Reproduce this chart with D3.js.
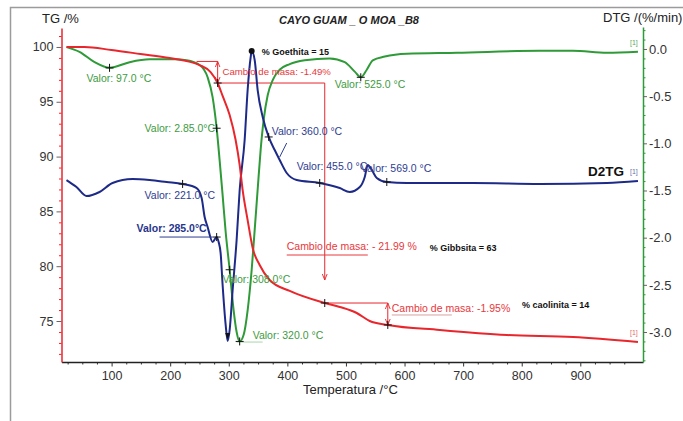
<!DOCTYPE html>
<html>
<head>
<meta charset="utf-8">
<script src="https://cdn.jsdelivr.net/npm/d3@7"></script>
<style>
  body { margin: 0; background: #fff; }
  svg { display: block; font-family: "Liberation Sans", Arial, sans-serif; }
</style>
</head>
<body>
<svg id="chart" width="683" height="421"></svg>
<script>
const tgData = [
  [23.0, 100.0], [53.8, 100.0], [99.9, 99.72], [149.4, 99.36], [199.0, 98.99],
  [250.2, 98.35], [269.0, 97.71], [281.0, 96.71], [289.5, 95.53], [301.5, 93.79],
  [311.7, 91.51], [318.6, 89.23], [323.7, 86.95], [332.2, 84.21], [340.8, 81.66],
  [352.7, 80.11], [369.8, 78.74], [404.0, 77.74], [463.8, 76.64], [489.4, 76.28],
  [518.4, 75.73], [540.6, 75.0], [571.4, 74.64], [660.2, 74.18], [774.7, 73.72],
  [887.4, 73.54], [998.4, 73.08]
];

const dtgData = [
  [23.0, 0.02], [45.2, -0.03], [70.9, -0.14], [96.5, -0.20], [130.7, -0.14],
  [164.8, -0.11], [207.5, -0.11], [228.0, -0.12], [250.2, -0.17], [263.9, -0.30],
  [272.4, -0.51], [279.3, -0.84], [284.4, -1.18], [289.5, -1.55], [294.7, -1.94],
  [301.5, -2.34], [308.3, -2.77], [313.4, -3.00], [318.6, -3.10], [325.4, -3.03],
  [332.2, -2.77], [339.1, -2.34], [344.2, -1.92], [349.3, -1.49], [354.4, -1.07],
  [359.6, -0.75], [366.4, -0.49], [375.0, -0.33], [386.9, -0.22], [404.0, -0.16],
  [429.6, -0.12], [472.3, -0.10], [497.9, -0.14], [515.0, -0.24], [525.3, -0.30],
  [535.5, -0.22], [545.8, -0.12], [566.3, -0.08], [603.8, -0.05], [689.3, -0.04],
  [831.0, -0.02], [887.4, -0.02], [945.5, -0.04], [998.4, -0.03]
];

// D2TG no tiene eje propio: se lee contra la escala TG
const d2tgData = [
  [23.0, 87.86], [40.1, 87.22], [57.2, 86.40], [79.4, 86.77], [101.6, 87.59],
  [135.8, 87.95], [164.8, 87.86], [193.9, 87.68], [221.2, 87.50], [245.1, 87.13],
  [253.7, 86.22], [258.8, 84.49], [263.9, 83.58], [272.4, 82.21], [279.3, 82.66],
  [282.7, 82.21], [286.1, 81.20], [289.5, 78.28], [294.7, 74.64], [298.1, 73.18],
  [301.5, 74.18], [306.6, 77.83], [313.4, 82.39], [318.6, 86.95], [327.1, 91.51],
  [332.2, 96.07], [337.4, 99.08], [339.1, 99.63], [344.2, 98.81], [349.3, 96.07],
  [357.9, 93.61], [368.1, 91.79], [378.4, 90.60], [386.9, 89.69], [398.9, 88.50],
  [415.9, 87.86], [455.2, 87.59], [489.4, 87.13], [506.5, 86.77], [523.6, 87.22],
  [532.1, 88.14], [537.2, 89.23], [544.1, 88.78], [552.6, 88.05], [569.7, 87.68],
  [603.8, 87.59], [716.6, 87.59], [831.0, 87.50], [945.5, 87.59], [998.4, 87.77]
];

const xTicks = [100, 200, 300, 400, 500, 600, 700, 800, 900];
const tgTicks = [75, 80, 85, 90, 95, 100];
const dtgTicks = [0, -0.5, -1, -1.5, -2, -2.5, -3];

// puntos marcados (+)
const tgMarks = [[281.0, 96.71], [463.8, 76.64], [571.4, 74.64]];
const dtgMarks = [[96.5, -0.20], [279.3, -0.84], [301.5, -2.34], [318.6, -3.10], [525.3, -0.30]];
const d2tgMarks = [[221.2, 87.50], [279.3, 82.66], [368.1, 91.79], [455.2, 87.59], [569.7, 87.68]];
const goethitaPeak = [339.1, 99.63];
const d2tgMin = [298.1, 73.18];

// textos, anclados en [°C, TG %]
const notes = [
  { text: "Valor: 97.0 °C", t: 57.2, v: 96.80, kind: "dtg" },
  { text: "Valor: 2.85.0°C", t: 156.3, v: 92.24, kind: "dtg" },
  { text: "Cambio de masa: -1.49%", t: 289.5, v: 97.44, kind: "tgSmall" },
  { text: "% Goethita = 15", t: 356.1, v: 99.27, kind: "pct" },
  { text: "Valor: 525.0 °C", t: 480.8, v: 96.26, kind: "dtg" },
  { text: "Valor: 360.0 °C", t: 373.2, v: 91.97, kind: "d2tg" },
  { text: "Valor: 455.0 °C", t: 415.9, v: 88.77, kind: "d2tg" },
  { text: "Valor: 569.0 °C", t: 525.3, v: 88.59, kind: "d2tg" },
  { text: "Valor: 221.0 °C", t: 156.3, v: 86.13, kind: "d2tg" },
  { text: "Valor: 285.0°C", t: 142.6, v: 83.12, kind: "d2tgBold" },
  { text: "Valor: 308.0°C", t: 289.5, v: 78.47, kind: "dtg" },
  { text: "Valor: 320.0 °C", t: 340.8, v: 73.36, kind: "dtg" },
  { text: "Cambio de masa: - 21.99 %", t: 398.9, v: 81.48, kind: "tg" },
  { text: "% Gibbsita = 63", t: 643.1, v: 81.39, kind: "pct" },
  { text: "Cambio de masa: -1.95%", t: 578.2, v: 75.82, kind: "tg" },
  { text: "% caolinita = 14", t: 800.3, v: 76.19, kind: "pct" },
  { text: "D2TG", t: 913.0, v: 88.23, kind: "name" },
  { text: "[1]", t: 984.8, v: 88.41, kind: "tagBlue" },
  { text: "[1]", t: 984.8, v: 100.18, kind: "tagGreen" },
  { text: "[1]", t: 984.8, v: 73.72, kind: "tagRed" }
];

// subrayados y guias finas: [t1, v1, t2, v2]
const leaders = [
  { p: [181.9, 82.66, 272.4, 82.66], kind: "d2tg" },
  { p: [386.9, 89.96, 398.9, 91.24], kind: "d2tg" },
  { p: [313.4, 73.08, 357.8, 73.08], kind: "dtgFaint" },
  { p: [398.9, 81.02, 537.3, 81.02], kind: "tg" },
  { p: [578.2, 75.55, 680.7, 75.55], kind: "tgFaint" }
];

// escalones de masa (lineas rojas) y flechas
const steps = [
  { p: [245.0, 98.68, 281.0, 98.68], arrow: "none" },
  { p: [281.0, 98.68, 281.0, 96.71], arrow: "both" },
  { p: [281.0, 96.71, 463.8, 96.71], arrow: "none" },
  { p: [463.8, 96.71, 463.8, 78.74], arrow: "end" },
  { p: [463.8, 76.64, 571.4, 76.64], arrow: "none" },
  { p: [571.4, 76.64, 571.4, 74.64], arrow: "both" }
];

const RED = "#e8262c", GREEN = "#2f9a38", BLUE = "#1d2a88";

const style = {
  dtg: { fill: "#3d9b3f", size: 10.5, weight: 400 },
  d2tg: { fill: "#2e3d92", size: 10.5, weight: 400 },
  d2tgBold: { fill: "#27358c", size: 10.5, weight: 700 },
  tg: { fill: "#e8383c", size: 10.5, weight: 400 },
  tgSmall: { fill: "#e8383c", size: 9.6, weight: 400 },
  pct: { fill: "#111", size: 9, weight: 700 },
  name: { fill: "#111", size: 13.5, weight: 700 },
  tagBlue: { fill: "#6a72a8", size: 7, weight: 400 },
  tagGreen: { fill: "#5aa85a", size: 7, weight: 400 },
  tagRed: { fill: "#e86a6a", size: 7, weight: 400 }
};
const leaderStyle = {
  d2tg: { stroke: "#2e3d92", w: 1 },
  dtgFaint: { stroke: "#a9d3a9", w: 1 },
  tg: { stroke: "#e8383c", w: 1 },
  tgFaint: { stroke: "#d9a0a0", w: 1 }
};

const svg = d3.select("#chart");

const x = d3.scaleLinear().domain([14.5, 1007]).range([61.5, 643]);
const yTG = d3.scaleLinear().domain([71.26, 101.73]).range([362, 28]);
const yDTG = d3.scaleLinear().domain([-3.318, 0.233]).range([362, 27]);

svg.append("rect").attr("width", 683).attr("height", 421).attr("fill", "#fff");

//marco gris
svg.append("path")
  .attr("d", "M10.5,421V7.5H683")
  .attr("fill", "none")
  .attr("stroke", "#9b9b9b")
  .attr("stroke-width", 1.5);

// flechas
const defs = svg.append("defs");
defs.append("marker")
  .attr("id", "arrEnd").attr("viewBox", "0 0 10 10")
  .attr("refX", 10).attr("refY", 5)
  .attr("markerWidth", 6).attr("markerHeight", 6)
  .attr("orient", "auto")
  .append("path").attr("d", "M0,1L10,5L0,9").attr("fill", "none").attr("stroke", RED).attr("stroke-width", 1.5);
defs.append("marker")
  .attr("id", "arrStart").attr("viewBox", "0 0 10 10")
  .attr("refX", 0).attr("refY", 5)
  .attr("markerWidth", 6).attr("markerHeight", 6)
  .attr("orient", "auto")
  .append("path").attr("d", "M10,1L0,5L10,9").attr("fill", "none").attr("stroke", RED).attr("stroke-width", 1.5);

//Ejes
const xMinor = d3.range(25, 1001, 25).filter(d => d % 100 !== 0);
svg.append("g")
  .attr("transform", "translate(0,362)")
  .call(d3.axisBottom(x).tickValues(xMinor).tickSize(2.5).tickFormat(""))
  .call(g => g.select(".domain").remove())
  .selectAll("line").attr("stroke", "#333");

const gx = svg.append("g")
  .attr("transform", "translate(0,362)")
  .call(d3.axisBottom(x).tickValues(xTicks).tickSize(4.5).tickPadding(5).tickSizeOuter(0));
gx.select(".domain").attr("stroke", "#222").attr("stroke-width", 1.5);
gx.selectAll("line").attr("stroke", "#333");
gx.selectAll("text").attr("font-size", 12.5).attr("fill", "#333").attr("font-family", null);

const tgMinor = d3.range(72, 102, 1).filter(d => d % 5 !== 0);
svg.append("g")
  .attr("transform", "translate(61.5,0)")
  .call(d3.axisLeft(yTG).tickValues(tgMinor).tickSize(2.5).tickFormat(""))
  .call(g => g.select(".domain").remove())
  .selectAll("line").attr("stroke", RED);

const gl = svg.append("g")
  .attr("transform", "translate(61.5,0)")
  .call(d3.axisLeft(yTG).tickValues(tgTicks).tickSize(5).tickPadding(3).tickSizeOuter(0));
gl.select(".domain").attr("stroke", RED).attr("stroke-width", 1.5);
gl.selectAll("line").attr("stroke", "#666");
gl.selectAll("text").attr("font-size", 12.5).attr("fill", "#333").attr("font-family", null);

const dtgMinor = d3.range(-33, 3, 1).map(d => d / 10).filter(d => Math.round(d * 10) % 5 !== 0);
svg.append("g")
  .attr("transform", "translate(643,0)")
  .call(d3.axisRight(yDTG).tickValues(dtgMinor).tickSize(2.5).tickFormat(""))
  .call(g => g.select(".domain").remove())
  .selectAll("line").attr("stroke", GREEN);

const gr = svg.append("g")
  .attr("transform", "translate(643,0)")
  .call(d3.axisRight(yDTG).tickValues(dtgTicks).tickSize(4).tickPadding(2).tickSizeOuter(0)
    .tickFormat(d => d.toFixed(1)));
gr.select(".domain").attr("stroke", GREEN).attr("stroke-width", 1.5);
gr.selectAll("line").attr("stroke", "#666");
gr.selectAll("text").attr("font-size", 13).attr("fill", "#333").attr("font-family", null);

// titulos de ejes
svg.append("text").attr("x", 42).attr("y", 23).attr("font-size", 13).attr("fill", "#222").text("TG /%");
svg.append("text").attr("x", 603).attr("y", 22).attr("font-size", 13).attr("fill", "#222").text("DTG /(%/min)");
svg.append("text").attr("x", 303).attr("y", 394).attr("font-size", 13).attr("fill", "#222").text("Temperatura /°C");
svg.append("text").attr("x", 349).attr("y", 24).attr("text-anchor", "middle")
  .attr("font-size", 11).attr("font-weight", 700).attr("font-style", "italic").attr("fill", "#222")
  .text("CAYO GUAM _ O MOA _B8");

// escalones rojos
svg.append("g").selectAll("line")
  .data(steps)
  .join("line")
  .attr("x1", d => x(d.p[0])).attr("y1", d => yTG(d.p[1]))
  .attr("x2", d => x(d.p[2])).attr("y2", d => yTG(d.p[3]))
  .attr("stroke", RED).attr("stroke-width", 1)
  .attr("marker-end", d => d.arrow !== "none" ? "url(#arrEnd)" : null)
  .attr("marker-start", d => d.arrow === "both" ? "url(#arrStart)" : null);

// curvas
const lineTG = d3.line().x(d => x(d[0])).y(d => yTG(d[1])).curve(d3.curveMonotoneX);
const lineDTG = d3.line().x(d => x(d[0])).y(d => yDTG(d[1])).curve(d3.curveMonotoneX);

svg.append("path").attr("d", lineDTG(dtgData))
  .attr("fill", "none").attr("stroke", GREEN).attr("stroke-width", 2);
svg.append("path").attr("d", lineTG(d2tgData))
  .attr("fill", "none").attr("stroke", BLUE).attr("stroke-width", 2);
svg.append("path").attr("d", lineTG(tgData))
  .attr("fill", "none").attr("stroke", RED).attr("stroke-width", 2);

// guias
svg.append("g").selectAll("line")
  .data(leaders)
  .join("line")
  .attr("x1", d => x(d.p[0])).attr("y1", d => yTG(d.p[1]))
  .attr("x2", d => x(d.p[2])).attr("y2", d => yTG(d.p[3]))
  .attr("stroke", d => leaderStyle[d.kind].stroke)
  .attr("stroke-width", d => leaderStyle[d.kind].w);

// cruces
const crossPts = [
  ...tgMarks.map(d => [x(d[0]), yTG(d[1])]),
  ...dtgMarks.map(d => [x(d[0]), yDTG(d[1])]),
  ...d2tgMarks.map(d => [x(d[0]), yTG(d[1])])
];
svg.append("g").selectAll("path")
  .data(crossPts)
  .join("path")
  .attr("d", d => `M${d[0] - 4},${d[1]}H${d[0] + 4}M${d[0]},${d[1] - 4}V${d[1] + 4}`)
  .attr("stroke", "#111").attr("stroke-width", 1);

svg.append("circle")
  .attr("cx", x(goethitaPeak[0])).attr("cy", yTG(goethitaPeak[1]))
  .attr("r", 3).attr("fill", "#111");

const mx = x(d2tgMin[0]), my = yTG(d2tgMin[1]);
svg.append("path")
  .attr("d", `M${mx - 2.5},${my - 8}L${mx + 2.5},${my - 8}L${mx},${my - 2}Z`)
  .attr("fill", "#111");

// textos
svg.append("g").selectAll("text")
  .data(notes)
  .join("text")
  .attr("x", d => x(d.t)).attr("y", d => yTG(d.v))
  .attr("font-size", d => style[d.kind].size)
  .attr("font-weight", d => style[d.kind].weight)
  .attr("fill", d => style[d.kind].fill)
  .text(d => d.text);
</script>
</body>
</html>
